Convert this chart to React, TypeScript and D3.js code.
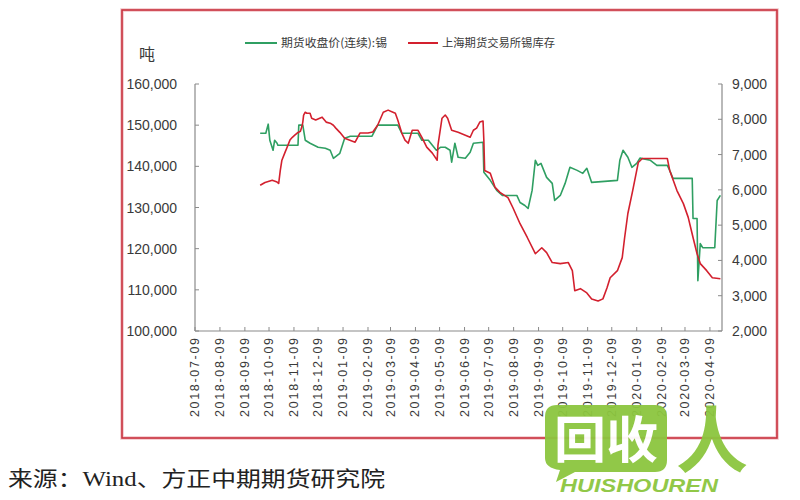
import React from "react";
import * as d3 from "d3";

const xTickLabels = [
  "2018-07-09","2018-08-09","2018-09-09","2018-10-09","2018-11-09","2018-12-09",
  "2019-01-09","2019-02-09","2019-03-09","2019-04-09","2019-05-09","2019-06-09",
  "2019-07-09","2019-08-09","2019-09-09","2019-10-09","2019-11-09","2019-12-09",
  "2020-01-09","2020-02-09","2020-03-09","2020-04-09",
];
const leftTicks = [100000, 110000, 120000, 130000, 140000, 150000, 160000];
const rightTicks = [2000, 3000, 4000, 5000, 6000, 7000, 8000, 9000];

const seriesNames = ["期货收盘价(连续):锡", "上海期货交易所锡库存"];
const leftUnit = "吨";
const sourceText = "来源：Wind、方正中期期货研究院";

// 期货收盘价(连续):锡 (left axis)
const priceDates = [
  "2018-09-28","2018-10-05","2018-10-08","2018-10-10","2018-10-14","2018-10-16","2018-10-19","2018-10-20",
  "2018-11-14","2018-11-15","2018-11-20","2018-11-23","2018-11-29","2018-12-09","2018-12-18","2018-12-24",
  "2018-12-28","2019-01-05","2019-01-11","2019-01-18","2019-02-14","2019-02-21","2019-03-18","2019-03-23",
  "2019-04-12","2019-04-17","2019-04-25","2019-04-30","2019-05-05","2019-05-10","2019-05-16","2019-05-22",
  "2019-05-24","2019-05-28","2019-06-01","2019-06-10","2019-06-16","2019-06-20","2019-07-02","2019-07-03",
  "2019-07-11","2019-07-19","2019-07-26","2019-08-13","2019-08-17","2019-08-23","2019-08-27","2019-09-01",
  "2019-09-05","2019-09-08","2019-09-12","2019-09-19","2019-09-26","2019-09-29","2019-10-06","2019-10-12",
  "2019-10-18","2019-10-27","2019-11-03","2019-11-08","2019-11-14","2019-12-16","2019-12-19","2019-12-23",
  "2019-12-29","2020-01-03","2020-01-09","2020-01-13","2020-01-26","2020-02-03","2020-02-16","2020-02-19",
  "2020-02-23","2020-03-18","2020-03-19","2020-03-24","2020-03-25","2020-03-28","2020-03-31","2020-04-15",
  "2020-04-18","2020-04-22",
];
const priceValues = [
  148050,148050,150240,146340,143900,146340,145610,145120,
  145120,150000,150000,146340,145610,144630,144390,143900,
  141950,143170,146830,147320,147320,150000,150000,148050,
  148050,146340,146340,145120,143900,144630,144630,143900,
  141000,145610,142200,141950,143410,145610,145850,138540,
  136590,134150,132930,132930,131220,130490,129760,134150,
  141460,140240,140730,137320,135850,131710,132930,135850,
  139760,139020,138290,139510,136100,136590,141460,143900,
  142200,139760,140730,142000,141460,140240,140240,139020,
  137070,137070,127320,127320,112200,121220,120240,120240,
  131710,132930,
];

// 上海期货交易所锡库存 (right axis)
const invDates = [
  "2018-09-28","2018-10-04","2018-10-13","2018-10-19","2018-10-21","2018-10-23","2018-10-25","2018-10-29",
  "2018-10-31","2018-11-04","2018-11-07","2018-11-10","2018-11-13","2018-11-17","2018-11-19","2018-11-20",
  "2018-11-21","2018-11-23","2018-11-25","2018-11-29","2018-12-01","2018-12-06","2018-12-11","2018-12-14",
  "2018-12-19","2018-12-24","2018-12-28","2018-12-31","2019-01-05","2019-01-11","2019-01-24","2019-01-30",
  "2019-02-09","2019-02-15","2019-02-21","2019-02-28","2019-03-06","2019-03-12","2019-03-15","2019-03-18",
  "2019-03-23","2019-03-27","2019-03-31","2019-04-05","2019-04-12","2019-04-17","2019-04-23","2019-04-30",
  "2019-05-06","2019-05-07","2019-05-12","2019-05-16","2019-05-19","2019-05-24","2019-06-01","2019-06-10",
  "2019-06-16","2019-06-20","2019-06-24","2019-06-28","2019-07-02","2019-07-03","2019-07-04","2019-07-11",
  "2019-07-17","2019-07-23","2019-08-02","2019-08-08","2019-08-17","2019-08-26","2019-09-05","2019-09-13",
  "2019-09-19","2019-09-26","2019-10-06","2019-10-16","2019-10-21","2019-10-24","2019-10-31","2019-11-08",
  "2019-11-14","2019-11-22","2019-11-28","2019-12-03","2019-12-07","2019-12-16","2019-12-22","2019-12-25",
  "2019-12-29","2020-01-04","2020-01-11","2020-01-16","2020-02-16","2020-02-19","2020-02-28","2020-03-07",
  "2020-03-13","2020-03-19","2020-03-24","2020-03-28","2020-04-05","2020-04-12","2020-04-22",
];
const invValues = [
  6130,6210,6270,6220,6180,6550,6840,7070,
  7180,7410,7490,7550,7610,7660,7800,7920,
  8120,8200,8170,8170,8030,7980,8030,8060,
  7920,7890,7830,7750,7630,7460,7350,7610,
  7610,7640,7830,8200,8260,8200,8170,7980,
  7610,7410,7320,7690,7690,7490,7210,7040,
  6840,7270,8030,8120,8030,7690,7630,7550,
  7490,7690,7750,7920,7950,7410,6550,6470,
  6070,5930,5780,5500,5040,4650,4190,4360,
  4220,3940,3910,3940,3710,3140,3200,3080,
  2910,2850,2910,3220,3510,3710,4080,4650,
  5330,5980,6780,6890,6890,6550,5980,5610,
  5220,4650,4190,3910,3710,3510,3480,
];

const parse = d3.timeParse("%Y-%m-%d");

export default function App() {
  const W = 800, H = 500;
  const left = 195, right = 722, top = 84, bottom = 331;

  const x = d3.scaleTime()
    .domain([parse("2018-07-09") as Date, parse("2020-04-24") as Date])
    .range([left, right]);
  const yL = d3.scaleLinear().domain([100000, 160000]).range([bottom, top]);
  const yR = d3.scaleLinear().domain([2000, 9000]).range([bottom, top]);

  const priceData = priceDates.map((d, i) => ({ d: parse(d) as Date, v: priceValues[i] }));
  const invData = invDates.map((d, i) => ({ d: parse(d) as Date, v: invValues[i] }));

  const priceLine = d3.line<{ d: Date; v: number }>().x(p => x(p.d)).y(p => yL(p.v));
  const invLine = d3.line<{ d: Date; v: number }>().x(p => x(p.d)).y(p => yR(p.v));

  const fmt = d3.format(",");
  const green = "#2f9f62";
  const red = "#d3202e";
  const axisColor = "#8a8a8a";
  const textColor = "#3a3a3a";
  const latin = "'Liberation Sans', Arial, sans-serif";
  const cjk = "'Noto Sans CJK SC', sans-serif";

  return (
    <svg width={W} height={H} style={{ position: "absolute", left: 0, top: 0, background: "#fff" }}>
      <rect x={0} y={0} width={W} height={H} fill="#fff" />
      {/* frame */}
      <rect x={122} y={10} width={655} height={428} fill="none" stroke="#f2c4c8" strokeWidth={3.5} />
      <rect x={122} y={10} width={655} height={428} fill="none" stroke="#c8323f" strokeWidth={1.6} />

      {/* legend */}
      <line x1={245} x2={277} y1={43} y2={43} stroke={green} strokeWidth={2} />
      <text x={281} y={47} fontSize={11.5} fontFamily={cjk} fill={textColor} textLength={106} lengthAdjust="spacingAndGlyphs">{seriesNames[0]}</text>
      <line x1={408} x2={438} y1={43} y2={43} stroke={red} strokeWidth={2} />
      <text x={442} y={47} fontSize={11.5} fontFamily={cjk} fill={textColor} textLength={113} lengthAdjust="spacingAndGlyphs">{seriesNames[1]}</text>

      {/* unit */}
      <text x={147} y={60} fontSize={16} fontFamily={cjk} fill={textColor} textAnchor="middle">{leftUnit}</text>

      {/* left axis */}
      <line x1={left} x2={left} y1={top} y2={bottom} stroke={axisColor} strokeWidth={1.2} />
      {leftTicks.map(t => (
        <g key={"l" + t}>
          <line x1={left} x2={left + 4} y1={yL(t)} y2={yL(t)} stroke={axisColor} strokeWidth={1} />
          <text x={177} y={yL(t) + 5} fontSize={14} fontFamily={latin} fill={textColor} textAnchor="end">{fmt(t)}</text>
        </g>
      ))}

      {/* right axis */}
      <line x1={right} x2={right} y1={top} y2={bottom} stroke={axisColor} strokeWidth={1.2} />
      {rightTicks.map(t => (
        <g key={"r" + t}>
          <line x1={right - 4} x2={right} y1={yR(t)} y2={yR(t)} stroke={axisColor} strokeWidth={1} />
          <text x={732} y={yR(t) + 5} fontSize={14} fontFamily={latin} fill={textColor} textAnchor="start">{fmt(t)}</text>
        </g>
      ))}

      {/* bottom axis */}
      <line x1={left} x2={right} y1={bottom} y2={bottom} stroke={axisColor} strokeWidth={1.2} />
      {xTickLabels.map(lbl => {
        const tx = x(parse(lbl) as Date);
        return (
          <g key={lbl}>
            <line x1={tx} x2={tx} y1={bottom} y2={bottom - 4} stroke={axisColor} strokeWidth={1} />
            <text
              transform={`translate(${tx},338) rotate(-90)`}
              fontSize={12.5}
              fontFamily={latin}
              fill={textColor}
              textAnchor="end"
              dominantBaseline="central"
              textLength={79}
              lengthAdjust="spacing"
            >{lbl}</text>
          </g>
        );
      })}

      {/* series */}
      <path d={priceLine(priceData) || ""} fill="none" stroke={green} strokeWidth={1.6} strokeLinejoin="round" />
      <path d={invLine(invData) || ""} fill="none" stroke={red} strokeWidth={1.6} strokeLinejoin="round" />

      {/* source */}
      <text x={8} y={486} fontSize={21} fontFamily="'Liberation Serif', 'Noto Sans CJK SC', serif" fill="#222" textLength={377} lengthAdjust="spacingAndGlyphs">{sourceText}</text>

      {/* watermark */}
      <g opacity={0.95}>
        <path d="M557,405 H655 Q667,405 667,417 V460 Q667,472 655,472 H575 L556,482 L560,470 Q545,468 545,458 V417 Q545,405 557,405 Z" fill="#8cc63f" />
        <text x={606} y={458} fontSize={50} fontWeight="bold" fontFamily={cjk} fill="#fff" textAnchor="middle" textLength={104} lengthAdjust="spacingAndGlyphs">回收</text>
        <text x={712} y={466} fontSize={72} fontWeight="bold" fontFamily={cjk} fill="#8cc63f" textAnchor="middle">人</text>
        <text x={560} y={492} fontSize={19} fontWeight="bold" fontStyle="italic" fontFamily={latin} fill="#8cc63f" textLength={158} lengthAdjust="spacingAndGlyphs">HUISHOUREN</text>
      </g>
    </svg>
  );
}
